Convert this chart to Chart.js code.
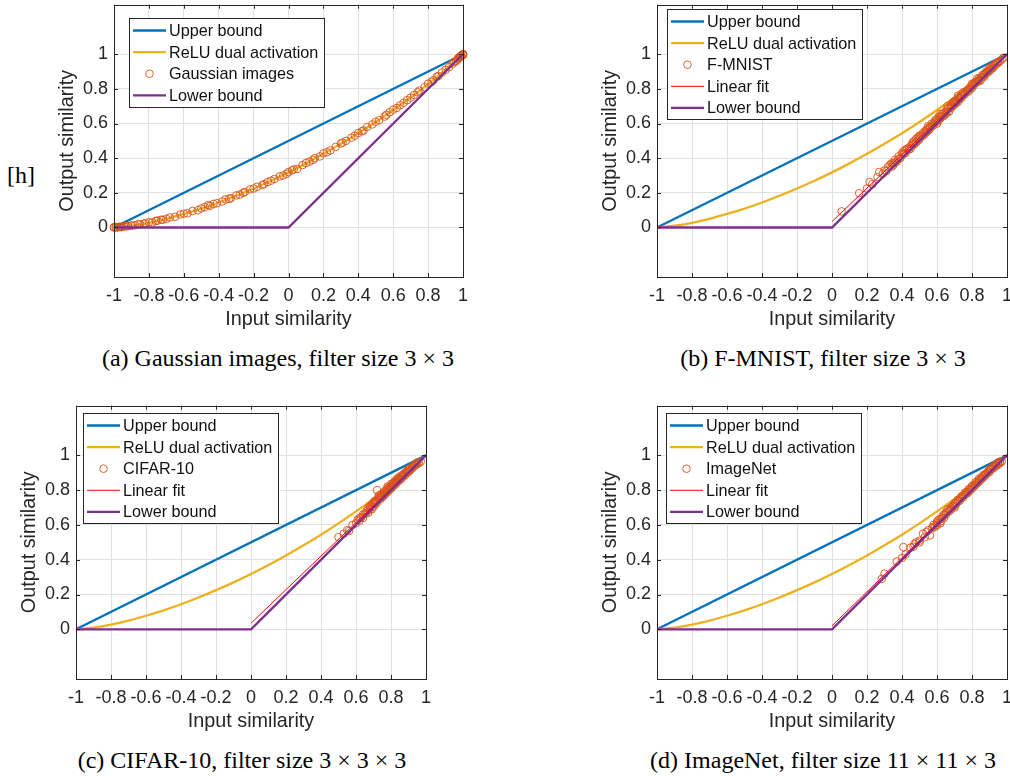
<!doctype html>
<html lang="en">
<head>
<meta charset="utf-8">
<title>Input vs output similarity</title>
<script src="https://cdn.jsdelivr.net/npm/chart.js@4.4.1/dist/chart.umd.min.js"></script>
<style>
  html, body { margin: 0; padding: 0; background: #fff; overflow: hidden; }
  body { width: 1010px; height: 776px; position: relative; }
  .panel { position: absolute; }
  .cap { position: absolute; font-family: "Liberation Serif", "Times New Roman", serif; font-size: 24px;
         color: #000; white-space: nowrap; transform: translate(-50%, -50%); }
</style>
<script type="text/javascript">
  // axis ticks
  const xTicks = [-1, -0.8, -0.6, -0.4, -0.2, 0, 0.2, 0.4, 0.6, 0.8, 1];
  const xTickLabels = ['-1', '-0.8', '-0.6', '-0.4', '-0.2', '0', '0.2', '0.4', '0.6', '0.8', '1'];
  const yTicks = [0, 0.2, 0.4, 0.6, 0.8, 1];
  const yTickLabels = ['0', '0.2', '0.4', '0.6', '0.8', '1'];

  // bounds
  const upperX = [-1, 1];
  const upperY = [0, 1];
  const lowerX = [-1, 0, 1];
  const lowerY = [0, 0, 1];

  // ReLU dual activation curve
  const reluX = [-1, -0.9, -0.8, -0.7, -0.6, -0.5, -0.4, -0.3, -0.2, -0.1, 0, 0.1, 0.2, 0.3, 0.4, 0.5, 0.6, 0.7, 0.8, 0.9, 1];
  const reluY = [0, 0.01, 0.027, 0.05, 0.078, 0.109, 0.144, 0.183, 0.225, 0.27, 0.318, 0.37, 0.425, 0.483, 0.544, 0.609, 0.678, 0.75, 0.827, 0.91, 1];

  // (a) Gaussian images
  const gaussX = [-1, -1, -0.99, -0.99, -0.98, -0.98, -0.97, -0.96, -0.95, -0.94, -0.92, -0.9, -0.88, -0.86, -0.83, -0.8, -0.78, -0.76,
    -0.73, -0.7, -0.68, -0.65, -0.62, -0.58, -0.55, -0.52, -0.48, -0.45, -0.43, -0.38, -0.36, -0.33, -0.3, -0.28, -0.25, -0.22,
    -0.18, -0.15, -0.12, -0.08, -0.05, -0.03, 0, 0.02, 0.05, 0.1, 0.12, 0.15, 0.18, 0.2, 0.24, 0.27, 0.3, 0.33, 0.36, 0.4, 0.43,
    0.45, 0.5, 0.52, 0.55, 0.58, 0.6, 0.62, 0.66, 0.7, 0.72, 0.75, 0.78, 0.8, 0.83, 0.86, 0.88, 0.9, 0.92, 0.94, 0.96, 0.97,
    0.98, 0.99, 0.99, 1, 1,
    -0.97, -0.96, -0.93, -0.9, -0.85, -0.82, -0.75, -0.72, -0.6, -0.5, -0.46, -0.41, -0.34, -0.26, -0.2, -0.14, -0.1, -0.01,
    0.03, 0.08, 0.14, 0.22, 0.31, 0.38, 0.42, 0.48, 0.56, 0.64, 0.68, 0.74, 0.82, 0.85, 0.95, 0.97, 0.98, 1, 1, 0.99];
  const gaussY = [0, 0.002, 0.001, 0.003, 0.002, 0, 0.003, 0.004, 0.005, 0.006, 0.008, 0.012, 0.013, 0.02, 0.022, 0.03, 0.03, 0.038,
    0.045, 0.05, 0.058, 0.062, 0.075, 0.082, 0.095, 0.1, 0.118, 0.125, 0.136, 0.15, 0.162, 0.17, 0.185, 0.19, 0.205, 0.22,
    0.235, 0.245, 0.262, 0.28, 0.295, 0.3, 0.32, 0.33, 0.338, 0.372, 0.38, 0.4, 0.41, 0.428, 0.445, 0.465, 0.485, 0.5, 0.518, 0.545, 0.56,
    0.58, 0.61, 0.62, 0.64, 0.665, 0.68, 0.69, 0.72, 0.75, 0.765, 0.79, 0.81, 0.83, 0.85, 0.875, 0.895, 0.91, 0.925, 0.945, 0.96, 0.97,
    0.98, 0.99, 0.993, 1, 0.998,
    0.004, 0.002, 0.007, 0.01, 0.018, 0.025, 0.04, 0.044, 0.08, 0.11, 0.13, 0.14, 0.165, 0.2, 0.225, 0.25, 0.27, 0.31,
    0.335, 0.36, 0.39, 0.435, 0.49, 0.53, 0.555, 0.595, 0.65, 0.705, 0.735, 0.78, 0.84, 0.87, 0.955, 0.975, 0.985, 1, 0.995, 0.988];

  // (b) F-MNIST
  const fmnistX = [0.055, 0.155, 0.2, 0.215, 0.23, 0.26, 0.27, 0.29, 0.3, 0.31, 0.33, 0.34, 0.35, 0.36, 0.37, 0.38, 0.39, 0.4,
    0.41, 0.42, 0.43, 0.44, 0.45, 0.46, 0.47, 0.48, 0.49, 0.5, 0.51, 0.52, 0.53, 0.54, 0.55, 0.56, 0.57, 0.58, 0.59, 0.6,
    0.61, 0.62, 0.63, 0.64, 0.65, 0.66, 0.67, 0.68, 0.69, 0.7, 0.71, 0.72, 0.73, 0.74, 0.75, 0.76, 0.77, 0.78, 0.79, 0.8,
    0.81, 0.82, 0.83, 0.84, 0.85, 0.86, 0.87, 0.88, 0.89, 0.9, 0.91, 0.92, 0.93, 0.94, 0.95, 0.96,
    0.45, 0.5, 0.55, 0.6, 0.63, 0.66, 0.7, 0.72, 0.75, 0.78, 0.8, 0.83, 0.85, 0.88, 0.9, 0.92, 0.35, 0.4, 0.48, 0.58,
    0.68, 0.74, 0.84, 0.87, 0.97, 0.98,
    0.32, 0.34, 0.36, 0.38, 0.41, 0.42, 0.44, 0.46, 0.47, 0.49, 0.5, 0.52, 0.53, 0.54, 0.56, 0.57, 0.59, 0.6, 0.61, 0.62,
    0.64, 0.65, 0.67, 0.68, 0.69, 0.7, 0.71, 0.72, 0.73, 0.74, 0.76, 0.77, 0.79, 0.8, 0.81, 0.82, 0.83, 0.84, 0.86, 0.87,
    0.89, 0.9, 0.91, 0.93, 0.94, 0.95, 0.72, 0.66, 0.62, 0.55];
  const fmnistY = [0.093, 0.198, 0.225, 0.262, 0.25, 0.29, 0.32, 0.31, 0.33, 0.325, 0.36, 0.35, 0.37, 0.39, 0.38, 0.41, 0.4, 0.42,
    0.44, 0.43, 0.455, 0.46, 0.47, 0.48, 0.5, 0.49, 0.52, 0.51, 0.53, 0.545, 0.54, 0.565, 0.56, 0.58, 0.6, 0.59, 0.61, 0.625,
    0.62, 0.64, 0.655, 0.645, 0.67, 0.685, 0.67, 0.7, 0.72, 0.71, 0.73, 0.74, 0.75, 0.76, 0.765, 0.78, 0.79, 0.785, 0.81, 0.82,
    0.83, 0.835, 0.845, 0.86, 0.865, 0.87, 0.885, 0.89, 0.9, 0.91, 0.915, 0.93, 0.94, 0.945, 0.955, 0.96,
    0.455, 0.53, 0.575, 0.61, 0.64, 0.665, 0.73, 0.725, 0.78, 0.8, 0.805, 0.86, 0.85, 0.9, 0.92, 0.92, 0.36, 0.43, 0.51, 0.6,
    0.69, 0.75, 0.845, 0.87, 0.97, 0.98,
    0.35, 0.37, 0.375, 0.395, 0.425, 0.45, 0.45, 0.49, 0.48, 0.5, 0.52, 0.53, 0.555, 0.55, 0.57, 0.585, 0.62, 0.6, 0.64, 0.63,
    0.66, 0.655, 0.69, 0.71, 0.7, 0.72, 0.72, 0.75, 0.74, 0.77, 0.77, 0.785, 0.8, 0.83, 0.82, 0.84, 0.84, 0.85, 0.88, 0.88,
    0.895, 0.905, 0.925, 0.935, 0.95, 0.95, 0.76, 0.7, 0.655, 0.585];
  const fmnistFitX = [0, 1];
  const fmnistFitY = [0.034, 1];

  // (c) CIFAR-10
  const cifarX = [0.5, 0.53, 0.55, 0.56, 0.58, 0.6, 0.61, 0.62, 0.63, 0.64, 0.65, 0.66, 0.67, 0.67, 0.68, 0.69, 0.69, 0.7, 0.7,
    0.71, 0.71, 0.72, 0.72, 0.73, 0.73, 0.74, 0.74, 0.75, 0.75, 0.76, 0.76, 0.77, 0.77, 0.78, 0.78, 0.79, 0.79, 0.8, 0.8,
    0.81, 0.81, 0.82, 0.82, 0.83, 0.83, 0.84, 0.84, 0.85, 0.85, 0.86, 0.86, 0.87, 0.87, 0.88, 0.88, 0.89, 0.9, 0.9, 0.91,
    0.92, 0.93, 0.94, 0.95, 0.96, 0.97,
    0.66, 0.68, 0.7, 0.71, 0.72, 0.74, 0.75, 0.76, 0.77, 0.78, 0.79, 0.8, 0.81, 0.82, 0.83, 0.84, 0.85, 0.86, 0.87, 0.88,
    0.89, 0.9, 0.91, 0.92, 0.93, 0.94, 0.95, 0.68, 0.73, 0.78, 0.62, 0.64];
  const cifarY = [0.53, 0.55, 0.57, 0.565, 0.6, 0.61, 0.63, 0.625, 0.645, 0.64, 0.665, 0.68, 0.67, 0.695, 0.7, 0.69, 0.715, 0.705, 0.73,
    0.72, 0.74, 0.8, 0.73, 0.745, 0.76, 0.75, 0.77, 0.76, 0.78, 0.77, 0.79, 0.78, 0.8, 0.79, 0.81, 0.8, 0.82, 0.81, 0.835,
    0.82, 0.84, 0.83, 0.85, 0.84, 0.86, 0.85, 0.87, 0.86, 0.875, 0.865, 0.885, 0.88, 0.89, 0.885, 0.9, 0.9, 0.905, 0.92, 0.915,
    0.925, 0.935, 0.945, 0.95, 0.955, 0.965,
    0.67, 0.69, 0.72, 0.73, 0.745, 0.76, 0.77, 0.78, 0.79, 0.8, 0.81, 0.82, 0.83, 0.84, 0.85, 0.86, 0.865, 0.875, 0.885, 0.895,
    0.91, 0.91, 0.925, 0.93, 0.94, 0.95, 0.96, 0.71, 0.77, 0.82, 0.64, 0.66];
  const cifarFitX = [0, 1];
  const cifarFitY = [0.035, 1];

  // (d) ImageNet
  const imagenetX = [0.284, 0.3, 0.37, 0.4, 0.408, 0.45, 0.465, 0.48, 0.5, 0.52, 0.53, 0.55, 0.56, 0.57, 0.58, 0.59, 0.6, 0.6,
    0.61, 0.62, 0.62, 0.63, 0.64, 0.64, 0.65, 0.66, 0.66, 0.67, 0.68, 0.68, 0.69, 0.7, 0.7, 0.71, 0.72, 0.72, 0.73, 0.74, 0.74,
    0.75, 0.76, 0.76, 0.77, 0.78, 0.78, 0.79, 0.8, 0.8, 0.81, 0.82, 0.82, 0.83, 0.84, 0.84, 0.85, 0.86, 0.86, 0.87, 0.88, 0.89,
    0.9, 0.9, 0.91, 0.92, 0.93, 0.94, 0.95, 0.96, 0.97,
    0.58, 0.6, 0.62, 0.63, 0.65, 0.67, 0.69, 0.7, 0.71, 0.73, 0.75, 0.77, 0.79, 0.81, 0.83, 0.85, 0.87, 0.88, 0.89, 0.9,
    0.91, 0.92, 0.93, 0.94, 0.95, 0.96, 0.54, 0.5, 0.47, 0.42];
  const imagenetY = [0.29, 0.32, 0.39, 0.41, 0.473, 0.47, 0.475, 0.5, 0.51, 0.55, 0.53, 0.57, 0.54, 0.58, 0.6, 0.59, 0.62, 0.6,
    0.63, 0.635, 0.61, 0.65, 0.64, 0.66, 0.66, 0.675, 0.69, 0.68, 0.7, 0.69, 0.705, 0.71, 0.725, 0.72, 0.735, 0.745, 0.74, 0.755, 0.765,
    0.76, 0.775, 0.785, 0.78, 0.79, 0.805, 0.8, 0.81, 0.825, 0.82, 0.83, 0.845, 0.84, 0.85, 0.865, 0.86, 0.87, 0.88, 0.88, 0.89, 0.9,
    0.905, 0.915, 0.92, 0.925, 0.935, 0.94, 0.95, 0.955, 0.965,
    0.59, 0.61, 0.62, 0.64, 0.67, 0.69, 0.71, 0.7, 0.73, 0.75, 0.77, 0.79, 0.81, 0.83, 0.85, 0.87, 0.89, 0.895, 0.905, 0.92,
    0.925, 0.935, 0.94, 0.95, 0.96, 0.965, 0.56, 0.5, 0.49, 0.43];
  const imagenetFitX = [0, 1];
  const imagenetFitY = [0.02, 1];

  const FONT = '"Liberation Sans", Arial, sans-serif';
  const INK = '#262626';

  const pts = (xs, ys) => xs.map((x, i) => ({x: x, y: ys[i]}));

  const lineSet = (label, xs, ys, color, width, smooth) => ({
    label: label, data: pts(xs, ys), showLine: true, borderColor: color, backgroundColor: color,
    borderWidth: width, pointRadius: 0, fill: false, tension: 0,
    cubicInterpolationMode: smooth ? 'monotone' : 'default'
  });

  const dotSet = (label, xs, ys) => ({
    label: label, data: pts(xs, ys), showLine: false, borderColor: '#D95319', backgroundColor: 'rgba(0,0,0,0)',
    borderWidth: 0.9, pointRadius: 3.8, pointHoverRadius: 3.8, clip: false
  });

  // box, inward ticks and legend drawn like the original axes
  const matlabAxes = {
    id: 'matlabAxes',
    afterDraw(chart, args, opts) {
      const {ctx, chartArea: a, scales} = chart;
      ctx.save();
      ctx.strokeStyle = INK;
      ctx.lineWidth = 1;
      ctx.beginPath();
      xTicks.forEach(v => {
        const px = Math.round(scales.x.getPixelForValue(v)) + 0.5;
        ctx.moveTo(px, a.bottom); ctx.lineTo(px, a.bottom - 4);
        ctx.moveTo(px, a.top); ctx.lineTo(px, a.top + 4);
      });
      yTicks.forEach(v => {
        const py = Math.round(scales.y.getPixelForValue(v)) + 0.5;
        ctx.moveTo(a.left, py); ctx.lineTo(a.left + 4, py);
        ctx.moveTo(a.right, py); ctx.lineTo(a.right - 4, py);
      });
      ctx.stroke();
      ctx.strokeRect(Math.round(a.left) + 0.5, Math.round(a.top) + 0.5, Math.round(a.width), Math.round(a.height));

      // legend
      const ds = chart.data.datasets;
      const x0 = Math.round(a.left + opts.dx), y0 = Math.round(a.top + opts.dy);
      const w = 195, h = Math.round(24 + (ds.length - 1) * 21.6);
      ctx.fillStyle = '#fff';
      ctx.fillRect(x0, y0, w, h);
      ctx.strokeStyle = INK;
      ctx.strokeRect(x0 + 0.5, y0 + 0.5, w, h);
      ctx.font = '16.2px ' + FONT;
      ctx.textBaseline = 'middle';
      ctx.textAlign = 'left';
      ds.forEach((d, i) => {
        const cy = y0 + 12.5 + i * 21.6;
        ctx.strokeStyle = d.borderColor;
        ctx.lineWidth = d.borderWidth;
        ctx.beginPath();
        if (d.showLine) {
          ctx.moveTo(x0 + 4, cy); ctx.lineTo(x0 + 37, cy);
        } else {
          ctx.arc(x0 + 20.5, cy, d.pointRadius, 0, Math.PI * 2);
        }
        ctx.stroke();
        ctx.fillStyle = '#111';
        ctx.fillText(d.label, x0 + 40, cy + 1);
      });
      ctx.restore();
    }
  };

  const makeChart = (id, datasets, legendPos) => {
    datasets.forEach((d, i) => { d.order = 10 - i; });
    return new Chart(document.getElementById(id), {
      type: 'scatter',
      data: {datasets: datasets},
      options: {
        responsive: true,
        maintainAspectRatio: false,
        animation: false,
        events: [],
        layout: {padding: {left: 0, top: 3, right: 8, bottom: 0}},
        plugins: {
          legend: {display: false},
          tooltip: {enabled: false},
          matlabAxes: legendPos
        },
        scales: {
          x: {
            type: 'linear', min: -1, max: 1,
            afterBuildTicks: s => { s.ticks = xTicks.map(v => ({value: v})); },
            afterFit: s => { s.height = 56; s.paddingLeft = 0; s.paddingRight = 0; },
            ticks: {autoSkip: false, maxRotation: 0, minRotation: 0, padding: 8, color: INK,
                    font: {family: FONT, size: 18}, callback: (v, i) => xTickLabels[i]},
            grid: {color: '#e0e0e0', drawTicks: false},
            border: {display: false},
            title: {display: true, text: 'Input similarity', color: INK,
                    font: {family: FONT, size: 19.8}, padding: {top: 0, bottom: 2}}
          },
          y: {
            type: 'linear', min: -0.2857, max: 1.2857,
            afterBuildTicks: s => { s.ticks = yTicks.map(v => ({value: v})); },
            afterFit: s => { s.width = 74; s.paddingTop = 0; s.paddingBottom = 0; },
            ticks: {autoSkip: false, padding: 6, color: INK,
                    font: {family: FONT, size: 18}, callback: (v, i) => yTickLabels[i]},
            grid: {color: '#e0e0e0', drawTicks: false},
            border: {display: false},
            title: {display: true, text: 'Output similarity', color: INK,
                    font: {family: FONT, size: 19.8}, padding: {top: 16, bottom: 0}}
          }
        }
      },
      plugins: [matlabAxes]
    });
  };

  const init = () => {
    makeChart('ca', [
      lineSet('Upper bound', upperX, upperY, '#0072BD', 2.3),
      lineSet('ReLU dual activation', reluX, reluY, '#EDB120', 2.3, true),
      dotSet('Gaussian images', gaussX, gaussY),
      lineSet('Lower bound', lowerX, lowerY, '#7E2F8E', 2.3)
    ], {dx: 15, dy: 13});

    makeChart('cb', [
      lineSet('Upper bound', upperX, upperY, '#0072BD', 2.3),
      lineSet('ReLU dual activation', reluX, reluY, '#EDB120', 2.3, true),
      dotSet('F-MNIST', fmnistX, fmnistY),
      lineSet('Linear fit', fmnistFitX, fmnistFitY, '#FF0000', 1),
      lineSet('Lower bound', lowerX, lowerY, '#7E2F8E', 2.3)
    ], {dx: 10, dy: 4});

    makeChart('cc', [
      lineSet('Upper bound', upperX, upperY, '#0072BD', 2.3),
      lineSet('ReLU dual activation', reluX, reluY, '#EDB120', 2.3, true),
      dotSet('CIFAR-10', cifarX, cifarY),
      lineSet('Linear fit', cifarFitX, cifarFitY, '#FF0000', 1),
      lineSet('Lower bound', lowerX, lowerY, '#7E2F8E', 2.3)
    ], {dx: 7, dy: 7});

    makeChart('cd', [
      lineSet('Upper bound', upperX, upperY, '#0072BD', 2.3),
      lineSet('ReLU dual activation', reluX, reluY, '#EDB120', 2.3, true),
      dotSet('ImageNet', imagenetX, imagenetY),
      lineSet('Linear fit', imagenetFitX, imagenetFitY, '#FF0000', 1),
      lineSet('Lower bound', lowerX, lowerY, '#7E2F8E', 2.3)
    ], {dx: 9, dy: 7});
  };

  window.onload = init;
</script>
</head>
<body>
  <div class="cap" style="left:21px; top:175px;">[h]</div>

  <div class="panel" style="left:40px; top:0px; width:431px; height:333px;"><canvas id="ca"></canvas></div>
  <div class="panel" style="left:583px; top:0px; width:432px; height:333px;"><canvas id="cb"></canvas></div>
  <div class="panel" style="left:2px; top:401px; width:432px; height:334px;"><canvas id="cc"></canvas></div>
  <div class="panel" style="left:583px; top:401px; width:432px; height:334px;"><canvas id="cd"></canvas></div>

  <div class="cap" style="left:278px; top:358px;">(a) Gaussian images, filter size 3 × 3</div>
  <div class="cap" style="left:823px; top:358px;">(b) F-MNIST, filter size 3 × 3</div>
  <div class="cap" style="left:242px; top:760px;">(c) CIFAR-10, filter size 3 × 3 × 3</div>
  <div class="cap" style="left:823px; top:760px;">(d) ImageNet, filter size 11 × 11 × 3</div>
</body>
</html>
